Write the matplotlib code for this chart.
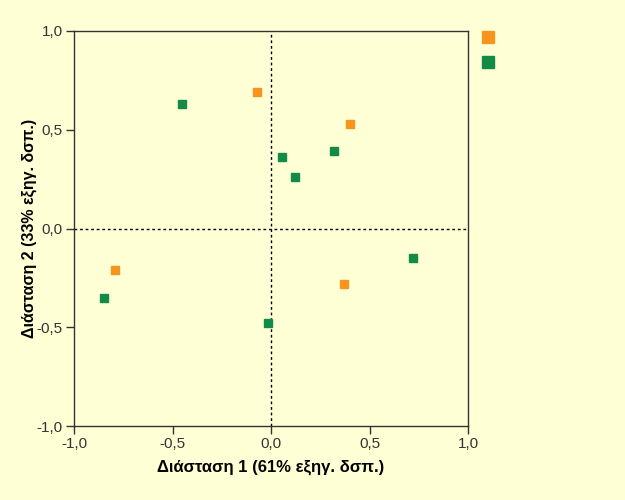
import matplotlib.pyplot as plt
from matplotlib.lines import Line2D
from matplotlib.ticker import FuncFormatter

plt.rcParams["font.family"] = ["Liberation Sans", "DejaVu Sans"]

BG = "#FFFFD6"
ORANGE = "#F7941D"
GREEN = "#138A45"

# group 1 (orange)
orange_x = [-0.07, 0.40, -0.79, 0.37]
orange_y = [0.69, 0.53, -0.21, -0.28]
# group 2 (green)
green_x = [-0.45, 0.055, 0.32, 0.12, -0.85, -0.015, 0.72]
green_y = [0.63, 0.36, 0.39, 0.26, -0.35, -0.48, -0.15]

ticks = [-1.0, -0.5, 0.0, 0.5, 1.0]


def comma_fmt(v, pos):
    return f"{v:.1f}".replace(".", ",")


fig = plt.figure(figsize=(6.25, 5), dpi=100, facecolor=BG)
ax = fig.add_axes([0.1184, 0.148, 0.6304, 0.79])
ax.set_facecolor(BG)

ax.axhline(0, color="black", linestyle=(0, (2, 2)), linewidth=1, zorder=1)
ax.axvline(0, color="black", linestyle=(0, (2, 2)), linewidth=1, zorder=1)

ax.plot(orange_x, orange_y, "s", color=ORANGE, markersize=6, linestyle="none", zorder=3)
ax.plot(green_x, green_y, "s", color=GREEN, markersize=6, linestyle="none", zorder=3)

ax.set_xlim(-1, 1)
ax.set_ylim(-1, 1)
ax.set_xticks(ticks)
ax.set_yticks(ticks)
ax.xaxis.set_major_formatter(FuncFormatter(comma_fmt))
ax.yaxis.set_major_formatter(FuncFormatter(comma_fmt))
ax.tick_params(direction="out", length=6, width=1, colors="#333333",
               labelsize=11, labelcolor="#333333", pad=2)
for s in ax.spines.values():
    s.set_color("#333333")
    s.set_linewidth(1)

ax.set_xlabel("Διάσταση 1 (61% εξηγ. δσπ.)", fontsize=12, fontweight="bold", labelpad=6)
ax.set_ylabel("Διάσταση 2 (33% εξηγ. δσπ.)", fontsize=11.5, fontweight="bold", labelpad=0)

handles = [
    Line2D([], [], marker="s", color=ORANGE, linestyle="none", markersize=9),
    Line2D([], [], marker="s", color=GREEN, linestyle="none", markersize=9),
]
ax.legend(handles, ["", ""], loc="upper left", bbox_to_anchor=(1.02, 1.015),
          frameon=False, handlelength=1, handletextpad=0, labelspacing=0.8,
          borderaxespad=0)

fig.savefig("out.png", dpi=100, facecolor=BG)
